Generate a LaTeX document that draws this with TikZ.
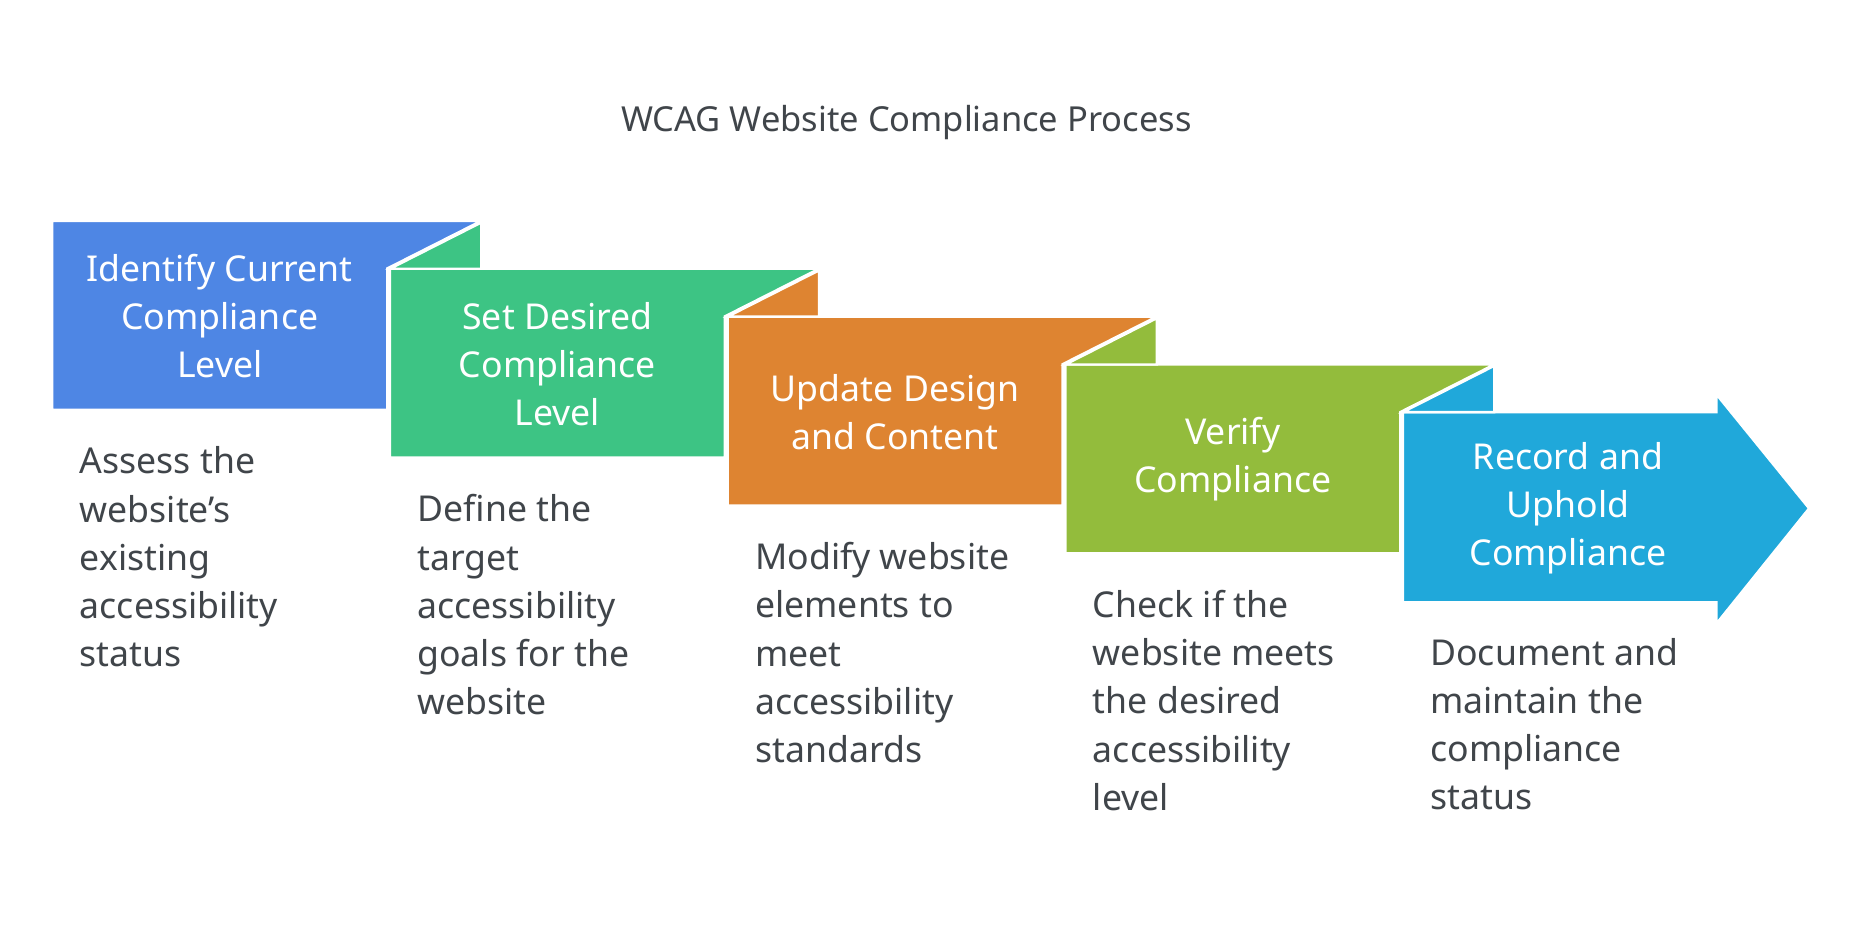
\documentclass[tikz,border=0pt]{standalone}
\usepackage{fontspec}
\setmainfont{Noto Sans}
\usetikzlibrary{positioning, calc}
\definecolor{cBlue}{HTML}{4E86E4}
\definecolor{cGreen}{HTML}{3DC484}
\definecolor{cOrange}{HTML}{DE8431}
\definecolor{cLime}{HTML}{93BC3C}
\definecolor{cCyan}{HTML}{20A8DA}
\definecolor{txtgray}{HTML}{40454A}
\tikzset{
  steplabel/.style={text=white, align=center, font=\fontsize{30}{40.5}\selectfont},
  stepdesc/.style={text=txtgray, align=left, anchor=north west, inner sep=0pt, font=\fontsize{30}{40.5}\selectfont},
  stepshape/.style={draw=white, line width=2pt, line join=miter}
}
\begin{document}
\begin{tikzpicture}[x=1pt, y=-1pt]
    \useasboundingbox[fill=white] (0,0) rectangle (1560,791);
    \node[font=\bfseries\fontsize{29}{35}\selectfont, text=txtgray] (title) at (763,103) {WCAG Website Compliance Process};
    %
    \foreach \i / \col / \lbl / \dsc in {
        0/cBlue/{Identify Current\\Compliance\\Level}/{Assess the\\website's\\existing\\accessibility\\status},
        1/cGreen/{Set Desired\\Compliance\\Level}/{Define the\\target\\accessibility\\goals for the\\website},
        2/cOrange/{Update Design\\and Content}/{Modify website\\elements to\\meet\\accessibility\\standards},
        3/cLime/{Verify\\Compliance}/{Check if the\\website meets\\the desired\\accessibility\\level}} {
      \pgfmathsetmacro{\xa}{44+284.3*\i}
      \pgfmathsetmacro{\ya}{186+40.3*\i}
      \fill[\col, stepshape] (\xa,\ya) -- ++(361,0) -- ++(-79,40) -- ++(0,119) -- ++(-282,0) -- cycle;
      \ifnum\i>0
        \fill[\col, stepshape] (\xa,\ya) -- ++(77,-39) -- ++(0,39) -- cycle;
      \fi
      \node[steplabel] (step\i) at (\xa+141,\ya+80) {\lbl};
      \node[stepdesc] (desc\i) at (\xa+23,\ya+190) {\dsc};
    }
    %
    \fill[cCyan, stepshape] (1181,347) -- (1445,347) -- (1445,332) -- (1523,428) -- (1445,525)
      -- (1445,507) -- (1181,507) -- cycle;
    \fill[cCyan, stepshape] (1181,347) -- ++(77,-39) -- ++(0,39) -- cycle;
    \node[steplabel] (step4) at (1320,428) {Record and\\Uphold\\Compliance};
    \node[stepdesc] (desc4) at (1204,537) {Document and\\maintain the\\compliance\\status};
\end{tikzpicture}
\end{document}
